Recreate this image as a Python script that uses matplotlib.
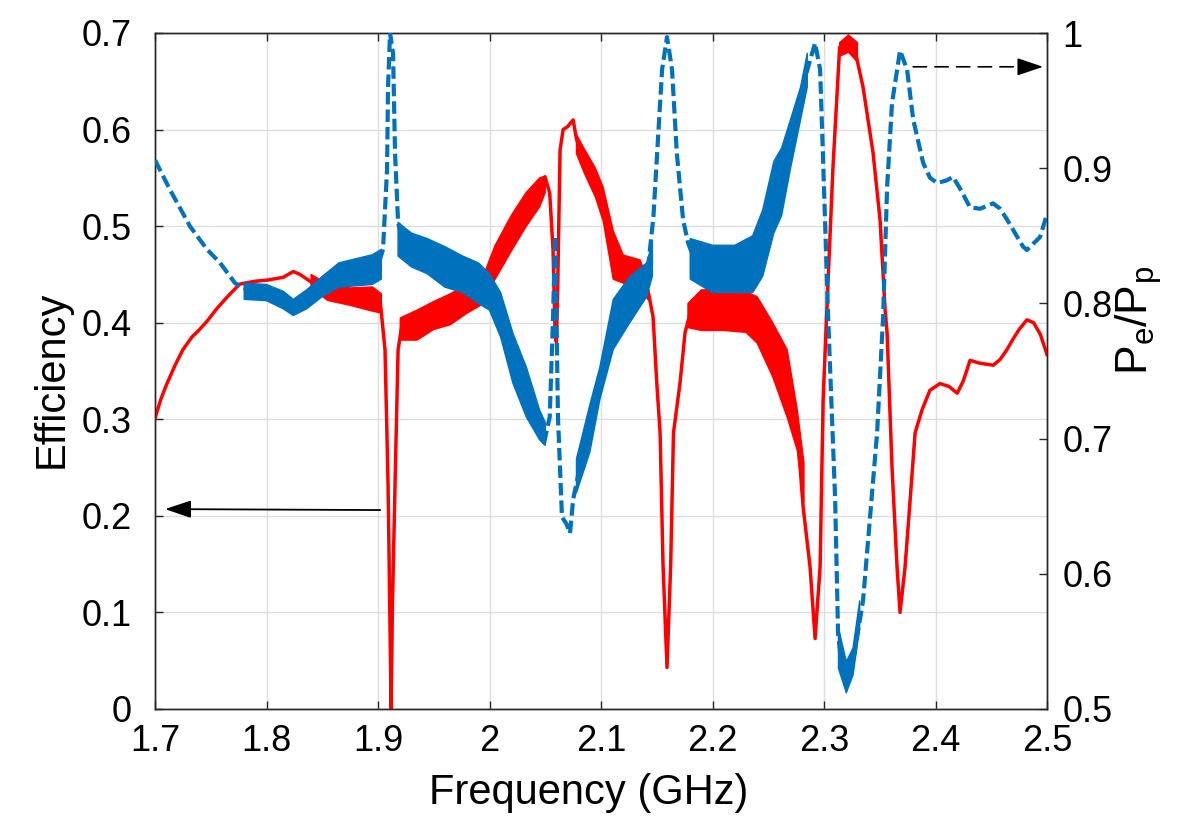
import numpy as np
import matplotlib
matplotlib.use("Agg")
import matplotlib.pyplot as plt
from matplotlib.ticker import FormatStrFormatter, MultipleLocator

plt.rcParams['font.family'] = ['Liberation Sans', 'DejaVu Sans']
plt.rcParams['mathtext.fontset'] = 'custom'
plt.rcParams['mathtext.rm'] = 'Liberation Sans'
plt.rcParams['mathtext.it'] = 'Liberation Sans:italic'

# efficiency (left axis), centre of the trace
freq_eff = [1.700, 1.705, 1.710, 1.718, 1.725, 1.733, 1.740, 1.747, 1.755, 1.765,
            1.776, 1.790, 1.800, 1.815, 1.824, 1.830, 1.839, 1.854, 1.875, 1.899,
            1.9018, 1.9063, 1.909, 1.9105, 1.9117, 1.913, 1.9153, 1.918, 1.9215, 1.930,
            1.944, 1.960, 1.976, 1.990, 2.000, 2.010, 2.021, 2.033, 2.045, 2.0498,
            2.054, 2.057, 2.0588, 2.0600, 2.0612, 2.0633, 2.066, 2.070, 2.075, 2.078,
            2.085, 2.095, 2.102, 2.111, 2.120, 2.135, 2.142, 2.1467, 2.150, 2.153,
            2.1556, 2.1592, 2.1625, 2.1650, 2.1709, 2.1754, 2.180, 2.190, 2.210, 2.230,
            2.240, 2.254, 2.267, 2.276, 2.2813, 2.2875, 2.292, 2.2965, 2.2992, 2.3028,
            2.308, 2.314, 2.3207, 2.3278, 2.335, 2.344, 2.3503, 2.3548, 2.3566, 2.361,
            2.3655, 2.3682, 2.3727, 2.3772, 2.3817, 2.388, 2.395, 2.404, 2.412, 2.4195,
            2.425, 2.431, 2.440, 2.4518, 2.458, 2.464, 2.470, 2.475, 2.482, 2.488,
            2.494, 2.500]
efficiency = [0.301, 0.320, 0.335, 0.356, 0.372, 0.385, 0.393, 0.402, 0.414, 0.427,
              0.440, 0.443, 0.444, 0.447, 0.453, 0.450, 0.443, 0.432, 0.427, 0.425,
              0.424, 0.372, 0.234, 0.110, 0.000, 0.110, 0.234, 0.372, 0.398, 0.395,
              0.398, 0.410, 0.425, 0.435, 0.455, 0.475, 0.493, 0.517, 0.535, 0.551,
              0.534, 0.475, 0.389, 0.380, 0.440, 0.579, 0.600, 0.603, 0.610, 0.590,
              0.567, 0.545, 0.522, 0.470, 0.455, 0.451, 0.434, 0.406, 0.338, 0.286,
              0.150, 0.043, 0.150, 0.286, 0.338, 0.390, 0.410, 0.413, 0.413, 0.411,
              0.403, 0.372, 0.337, 0.289, 0.209, 0.147, 0.073, 0.147, 0.320, 0.420,
              0.560, 0.685, 0.693, 0.682, 0.644, 0.576, 0.506, 0.413, 0.389, 0.250,
              0.147, 0.100, 0.147, 0.216, 0.286, 0.310, 0.330, 0.337, 0.334, 0.327,
              0.340, 0.361, 0.358, 0.356, 0.362, 0.372, 0.384, 0.393, 0.403, 0.400,
              0.388, 0.367]

# noisy spread of the efficiency trace (nan separates the noisy stretches)
eff_band_freq = [1.840, 1.855, 1.875, 1.895, 1.903, np.nan,
                 1.920, 1.935, 1.950, 1.965, 1.980, 1.995, 2.005, 2.020, 2.033, 2.045, 2.050, np.nan,
                 2.078, 2.085, 2.095, 2.102, 2.111, 2.120, 2.135, 2.142, np.nan,
                 2.178, 2.190, 2.210, 2.230, 2.240, 2.254, 2.267, 2.276, 2.282, np.nan,
                 2.314, 2.322, 2.330]
eff_band_lo = [0.436, 0.423, 0.418, 0.412, 0.410, np.nan,
               0.382, 0.382, 0.393, 0.398, 0.410, 0.420, 0.445, 0.475, 0.500, 0.520, 0.535, np.nan,
               0.575, 0.555, 0.530, 0.505, 0.445, 0.441, 0.438, 0.424, np.nan,
               0.395, 0.392, 0.392, 0.390, 0.379, 0.344, 0.302, 0.268, 0.215, np.nan,
               0.676, 0.680, 0.670]
eff_band_hi = [0.450, 0.440, 0.436, 0.437, 0.430, np.nan,
               0.405, 0.413, 0.422, 0.430, 0.440, 0.450, 0.480, 0.512, 0.535, 0.550, 0.552, np.nan,
               0.595, 0.580, 0.560, 0.540, 0.495, 0.470, 0.465, 0.445, np.nan,
               0.420, 0.434, 0.434, 0.432, 0.427, 0.400, 0.372, 0.310, 0.255, np.nan,
               0.690, 0.698, 0.690]

# Pe/Pp (right axis), centre of the trace
freq_ratio = [1.700, 1.7135, 1.7314, 1.7466, 1.7583, 1.7718, 1.7852, 1.8005, 1.8148, 1.824,
              1.8363, 1.8507, 1.865, 1.880, 1.899, 1.9045, 1.9081, 1.909, 1.9108, 1.9135,
              1.9153, 1.918, 1.9224, 1.930, 1.944, 1.960, 1.976, 1.990, 2.000, 2.010,
              2.021, 2.033, 2.045, 2.049, 2.054, 2.057, 2.0588, 2.0605, 2.0614, 2.065,
              2.069, 2.0722, 2.075, 2.081, 2.090, 2.099, 2.111, 2.126, 2.141, 2.147,
              2.1512, 2.1548, 2.1592, 2.1637, 2.168, 2.1736, 2.178, 2.1825, 2.200, 2.220,
              2.236, 2.245, 2.255, 2.262, 2.270, 2.279, 2.2848, 2.292, 2.2965, 2.299,
              2.3037, 2.310, 2.3126, 2.316, 2.3207, 2.326, 2.335, 2.3413, 2.3476, 2.353,
              2.3566, 2.361, 2.3682, 2.3745, 2.380, 2.3889, 2.395, 2.4014, 2.410, 2.4157,
              2.422, 2.431, 2.440, 2.4516, 2.458, 2.4642, 2.4785, 2.482, 2.4937, 2.500]
power_ratio = [0.906, 0.884, 0.857, 0.840, 0.830, 0.815, 0.809, 0.808, 0.8025, 0.797,
               0.803, 0.812, 0.821, 0.823, 0.825, 0.840, 0.899, 0.960, 1.000, 0.985,
               0.911, 0.860, 0.845, 0.840, 0.835, 0.827, 0.822, 0.815, 0.808, 0.792,
               0.760, 0.735, 0.710, 0.697, 0.716, 0.790, 0.850, 0.766, 0.716, 0.642,
               0.637, 0.630, 0.655, 0.679, 0.708, 0.741, 0.784, 0.803, 0.817, 0.864,
               0.923, 0.973, 0.997, 0.973, 0.911, 0.862, 0.845, 0.835, 0.826, 0.826,
               0.829, 0.845, 0.880, 0.890, 0.918, 0.948, 0.972, 0.9926, 0.973, 0.911,
               0.790, 0.655, 0.556, 0.530, 0.519, 0.535, 0.580, 0.642, 0.704, 0.790,
               0.886, 0.948, 0.987, 0.973, 0.936, 0.904, 0.893, 0.889, 0.891, 0.8935,
               0.885, 0.871, 0.870, 0.874, 0.870, 0.862, 0.842, 0.8395, 0.849, 0.866]

# noisy spread of the Pe/Pp trace
ratio_band_freq = [1.780, 1.800, 1.815, 1.824, 1.836, 1.850, 1.865, 1.880, 1.895, 1.903, np.nan,
                   1.918, 1.930, 1.944, 1.960, 1.976, 1.990, 2.000, 2.010, 2.021, 2.033, 2.045, 2.050, np.nan,
                   2.078, 2.090, 2.099, 2.111, 2.126, 2.141, 2.146, np.nan,
                   2.180, 2.200, 2.220, 2.236, 2.245, 2.255, 2.262, 2.270, 2.279, 2.285, np.nan,
                   2.313, 2.320, 2.326, 2.332]
ratio_band_lo = [0.803, 0.802, 0.796, 0.791, 0.796, 0.805, 0.812, 0.813, 0.814, 0.818, np.nan,
                 0.835, 0.827, 0.822, 0.812, 0.808, 0.800, 0.795, 0.775, 0.741, 0.716, 0.699, 0.695, np.nan,
                 0.660, 0.690, 0.729, 0.766, 0.786, 0.805, 0.820, np.nan,
                 0.818, 0.808, 0.808, 0.808, 0.820, 0.852, 0.865, 0.900, 0.936, 0.960, np.nan,
                 0.530, 0.512, 0.525, 0.560]
ratio_band_hi = [0.815, 0.814, 0.809, 0.803, 0.810, 0.820, 0.830, 0.833, 0.836, 0.840, np.nan,
                 0.860, 0.852, 0.848, 0.842, 0.835, 0.830, 0.822, 0.808, 0.778, 0.753, 0.721, 0.712, np.nan,
                 0.685, 0.725, 0.753, 0.803, 0.820, 0.830, 0.845, np.nan,
                 0.848, 0.843, 0.843, 0.850, 0.869, 0.905, 0.915, 0.936, 0.960, 0.985, np.nan,
                 0.560, 0.535, 0.545, 0.580]

red = '#ff0000'
blue = '#0072bd'
axcol = '#262626'

fig = plt.figure(figsize=(11.86, 8.17), dpi=100)
ax = fig.add_axes([155 / 1186, 1 - 709 / 817, 892 / 1186, 676 / 817])
ax2 = ax.twinx()

ax.plot(freq_eff, efficiency, color=red, lw=2.5, zorder=3, solid_joinstyle='round')
ax.fill_between(eff_band_freq, eff_band_lo, eff_band_hi, color=red, lw=1.0, zorder=3)

ax2.plot(freq_ratio, power_ratio, color=blue, lw=3.0, linestyle=(0, (3.0, 1.2)), zorder=3)
ax2.fill_between(ratio_band_freq, ratio_band_lo, ratio_band_hi, color=blue, lw=1.0, zorder=3)

ax.set_xlim(1.7, 2.5)
ax.set_ylim(0, 0.7)
ax2.set_ylim(0.5, 1.0)
ax.xaxis.set_major_locator(MultipleLocator(0.1))
ax.yaxis.set_major_locator(MultipleLocator(0.1))
ax2.yaxis.set_major_locator(MultipleLocator(0.1))
ax.xaxis.set_major_formatter(FormatStrFormatter('%g'))
ax.yaxis.set_major_formatter(FormatStrFormatter('%g'))
ax2.yaxis.set_major_formatter(FormatStrFormatter('%g'))

ax.grid(True, color='#dedede', lw=1.0)
ax.set_axisbelow(True)

for a in (ax, ax2):
    for s in a.spines.values():
        s.set_color(axcol)
        s.set_linewidth(1.0)

ax.tick_params(axis='x', direction='in', top=True, length=6, width=1.0, color=axcol,
               labelsize=26, pad=11)
ax.tick_params(axis='y', direction='in', left=True, right=False, length=6, width=1.0,
               color=axcol, labelsize=26, pad=17)
ax2.tick_params(axis='y', direction='in', length=6, width=1.0, color=axcol,
                labelsize=26, pad=11)

ax.set_xlabel('Frequency (GHz)', fontsize=30)
ax.xaxis.label.set_va('center')
ax.xaxis.set_label_coords(0.486, -0.124)
ax.set_ylabel('Efficiency', fontsize=30)
ax.yaxis.label.set_va('center')
ax.yaxis.set_label_coords(-0.1155, 0.487)
ax2.set_ylabel(r'$\mathregular{P_e/P_p}$', fontsize=32, rotation=90)
ax2.yaxis.label.set_va('center')
ax2.yaxis.set_label_coords(1.103, 0.575)

# arrows pointing to the matching axis
ax.annotate('', xy=(1.709, 0.207), xytext=(1.902, 0.206),
            arrowprops=dict(arrowstyle='-|>,head_length=0.8,head_width=0.27', color='k',
                            lw=1.3, mutation_scale=20, shrinkA=0, shrinkB=0))
ax2.annotate('', xy=(2.485, 0.975), xytext=(2.380, 0.975),
             arrowprops=dict(arrowstyle='-', color='k', lw=1.2, linestyle=(0, (8, 5)),
                             shrinkA=0, shrinkB=0))
ax2.annotate('', xy=(2.4965, 0.975), xytext=(2.480, 0.975),
             arrowprops=dict(arrowstyle='-|>,head_length=0.8,head_width=0.27', color='k',
                             lw=1.2, mutation_scale=20, shrinkA=0, shrinkB=0))

fig.savefig('out.png', dpi=100)
